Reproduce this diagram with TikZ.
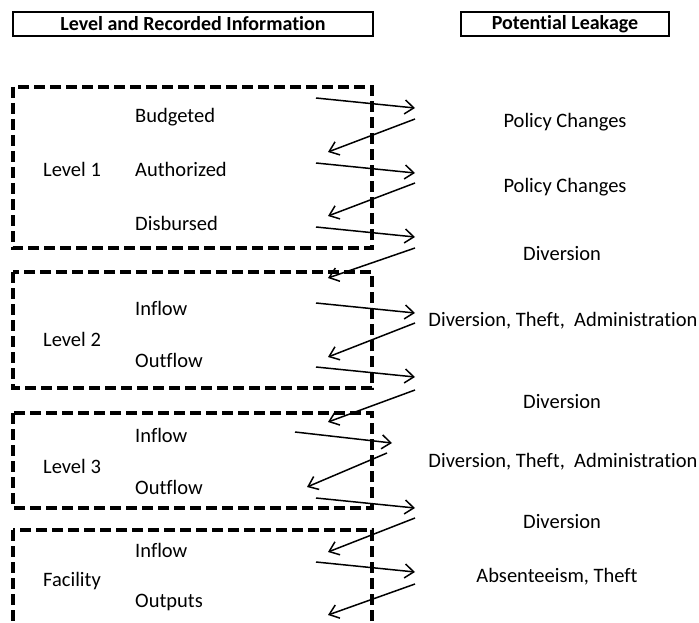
\documentclass[tikz,border=0pt]{standalone}
\usepackage{fontspec}
\setmainfont{Carlito}[Ligatures=NoCommon]
\usetikzlibrary{arrows.meta}

\begin{document}
\begin{tikzpicture}[x=1pt,y=-1pt,
    lbl/.style={font=\fontsize{20.5}{23}\selectfont,inner sep=0pt},
    head/.style={draw,line width=1.5pt,font=\bfseries\fontsize{20}{23}\selectfont,minimum height=24pt,inner sep=0pt},
    lvl/.style={draw,line width=4pt,dash pattern=on 11pt off 5pt},
    leak/.style={-{Straight Barb[length=9pt,width=14pt]},line width=1.5pt}]
      \path[use as bounding box,clip] (0,0) rectangle (699,623);
      \node[head,minimum width=360pt] (hlev) at (193,24) {Level and Recorded Information};
      \node[head,minimum width=208pt] (hleak) at (565,24) {Potential Leakage};
      \foreach \ya/\yb in {87/248,272/388,413/508,530/660}
      \draw[lvl] (13,\ya) rectangle (372,\yb);
      \foreach \n/\y/\t in {lv1/169/Level 1,lv2/339/Level 2,lv3/466/Level 3,fac/581/Facility}
      \node[lbl,anchor=west] (\n) at (43,\y) {\t};
      \foreach \n/\y/\t in {bud/117/Budgeted,aut/169/Authorized,dis/223/Disbursed,in2/308/Inflow,out2/360/Outflow,in3/435/Inflow,out3/487/Outflow,in4/550/Inflow,out4/602/Outputs}
      \node[lbl,anchor=west] (\n) at (135,\y) {\t};
      \foreach \n/\x/\y/\t in {pc1/565/122/Policy Changes,pc2/565/187/Policy Changes,dv1/562/254/Diversion,dta1/563/321/{Diversion, Theft,\ \ Administration},dv2/562/402/Diversion,dta2/563/462/{Diversion, Theft,\ \ Administration},dv3/562/522/Diversion,abs/557/577/{Absenteeism, Theft}}
      \node[lbl] (\n) at (\x,\y) {\t};
      \foreach \i/\ax/\ay/\bx/\by in {1/316/98/415/108,2/316/163/415/173,3/316/227/415/237,4/316/303/415/313,5/316/367/415/377,6/295/432/392/443,7/316/498/415/508,8/316/562/415/572}
      {\coordinate (o\i) at (\ax,\ay); \coordinate (p\i) at (\bx,\by); \draw[leak] (o\i) -- (p\i);}
      \foreach \i/\ax/\ay/\bx/\by in {1/415/119/328/152,2/415/183/328/216,3/415/248/328/278,4/415/323/328/357,5/415/390/328/422,6/387/453/307/487,7/415/518/328/552,8/415/584/328/615}
      {\coordinate (q\i) at (\ax,\ay); \coordinate (r\i) at (\bx,\by); \draw[leak] (q\i) -- (r\i);}
    \end{tikzpicture}
\end{document}
